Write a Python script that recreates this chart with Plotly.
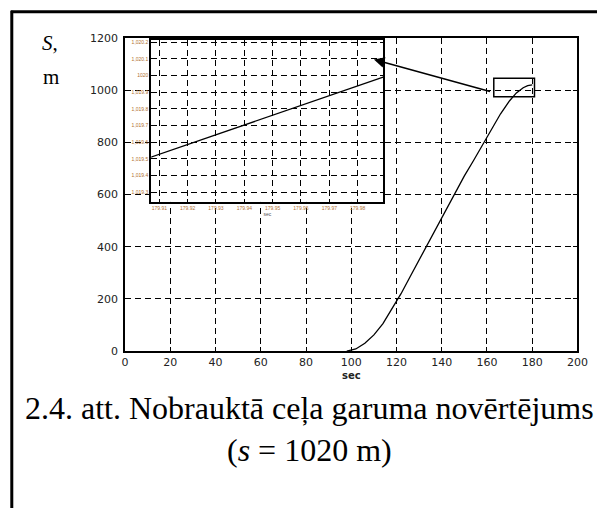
import plotly.graph_objects as go

# ---------------- data ----------------
t_main = [98, 102, 106, 110, 114, 118, 122, 126, 130, 134, 138, 142, 146, 150, 154,
          158, 162, 166, 170, 173, 176, 178, 180]
s_main = [0, 8, 30, 62, 105, 160, 220, 285, 350, 415, 480, 545, 610, 672, 730,
          790, 850, 910, 960, 990, 1010, 1018, 1021]

x_ticks = [0, 20, 40, 60, 80, 100, 120, 140, 160, 180, 200]
y_ticks = [0, 200, 400, 600, 800, 1000, 1200]

# inset (zoomed view)
t_inset = [179.907, 179.989]
s_inset = [1019.51, 1019.99]
inset_x_ticks = [179.91, 179.92, 179.93, 179.94, 179.95, 179.96, 179.97, 179.98]
inset_y_ticks = [1019.3, 1019.4, 1019.5, 1019.6, 1019.7, 1019.8, 1019.9, 1020.0, 1020.1, 1020.2]

# zoom box in main plot and arrow (data coordinates)
box_t = [163, 181]
box_s = [975, 1046]
arrow_tail = (162, 994)
arrow_head = (110, 1118)

W, H = 608, 515
def px(x):
    return x / W
def py(y):
    return 1 - y / H

fig = go.Figure()

fig.add_trace(go.Scatter(x=t_main, y=s_main, mode="lines",
                         line=dict(color="black", width=1.3),
                         xaxis="x", yaxis="y", showlegend=False, hoverinfo="skip"))
fig.add_trace(go.Scatter(x=t_inset, y=s_inset, mode="lines",
                         line=dict(color="black", width=1.3),
                         xaxis="x2", yaxis="y2", showlegend=False, hoverinfo="skip"))

tickfont = dict(family="DejaVu Sans", size=11, color="#222")
dash = "6px,4px"
inset_dx = inset_x_ticks[1] - inset_x_ticks[0]
inset_dy = inset_y_ticks[1] - inset_y_ticks[0]

fig.update_layout(
    width=W, height=H,
    margin=dict(l=0, r=0, t=0, b=0),
    paper_bgcolor="white", plot_bgcolor="white",
    showlegend=False,
    xaxis=dict(domain=[px(125), px(588)], range=[0, 200], tickvals=x_ticks,
               showgrid=True, gridcolor="black", griddash=dash, gridwidth=1.2,
               showline=True, linecolor="black", linewidth=2, mirror="ticks",
               ticks="inside", ticklen=4, tickcolor="black", tickwidth=1.2,
               tickfont=tickfont, zeroline=False, anchor="y",
               title=dict(text="<b>sec</b>", font=dict(family="DejaVu Sans", size=10, color="#222"), standoff=4)),
    yaxis=dict(domain=[py(354), py(33)], range=[0, 1200], tickvals=y_ticks,
               showgrid=True, gridcolor="black", griddash=dash, gridwidth=1.2,
               showline=True, linecolor="black", linewidth=2, mirror="ticks",
               ticks="inside", ticklen=4, tickcolor="black", tickwidth=1.2,
               tickfont=tickfont, zeroline=False, anchor="x", ticklabelstandoff=3),
    xaxis2=dict(domain=[px(151.7), px(389.3)],
                range=[inset_x_ticks[0] - 0.286 * inset_dx, inset_x_ticks[-1] + 0.907 * inset_dx],
                tickvals=inset_x_ticks,
                showgrid=True, gridcolor="black", griddash=dash, gridwidth=1.2,
                showline=True, linecolor="black", linewidth=1.8, mirror="ticks",
                ticks="inside", ticklen=3, tickcolor="black",
                tickfont=dict(family="Liberation Sans", size=5, color="#b07030"),
                zeroline=False, anchor="y2",
                title=dict(text="sec", font=dict(family="Liberation Sans", size=5, color="#555"), standoff=2)),
    yaxis2=dict(domain=[py(201), py(35)],
                range=[inset_y_ticks[0] - 0.58 * inset_dy, inset_y_ticks[-1] + 0.117 * inset_dy],
                tickvals=inset_y_ticks,
                showgrid=True, gridcolor="black", griddash=dash, gridwidth=1.2,
                showline=True, linecolor="black", linewidth=1.8, mirror="ticks",
                ticks="inside", ticklen=3, tickcolor="black",
                tickfont=dict(family="Liberation Sans", size=5, color="#b07030"),
                zeroline=False, anchor="x2"),
)

# white backing for the inset (above main grid, below main data)
fig.add_shape(type="rect", xref="paper", yref="paper",
              x0=px(127), x1=px(392), y0=py(209), y1=py(34),
              fillcolor="white", line=dict(width=0), layer="between")

# zoom box
fig.add_shape(type="rect", xref="x", yref="y", x0=box_t[0], x1=box_t[1],
              y0=box_s[0], y1=box_s[1], line=dict(color="black", width=1.5))

# arrow
fig.add_annotation(x=arrow_head[0], y=arrow_head[1], ax=arrow_tail[0], ay=arrow_tail[1],
                   xref="x", yref="y", axref="x", ayref="y", text="",
                   showarrow=True, arrowhead=2, arrowsize=1.4, arrowwidth=1.5, arrowcolor="black")

# table-cell borders
fig.add_shape(type="line", xref="paper", yref="paper", x0=px(8), x1=1, y0=py(6), y1=py(6),
              line=dict(color="black", width=3))
fig.add_shape(type="line", xref="paper", yref="paper", x0=px(9), x1=px(9), y0=py(5), y1=0,
              line=dict(color="black", width=3))

# axis symbol labels
fig.add_annotation(text="<i>S</i>,", xref="paper", yref="paper", x=px(38), y=py(38),
                   xanchor="left", yanchor="middle", showarrow=False,
                   font=dict(family="Liberation Serif", size=21, color="black"))
fig.add_annotation(text="m", xref="paper", yref="paper", x=px(39), y=py(73),
                   xanchor="left", yanchor="middle", showarrow=False,
                   font=dict(family="Liberation Serif", size=21, color="black"))

# caption
fig.add_annotation(text="2.4. att. Nobrauktā ceļa garuma novērtējums", xref="paper", yref="paper",
                   x=px(314), y=py(412), xanchor="center", yanchor="middle", showarrow=False,
                   font=dict(family="Liberation Serif", size=32, color="black"))
fig.add_annotation(text="(<i>s</i> = 1020 m)", xref="paper", yref="paper",
                   x=px(314), y=py(455), xanchor="center", yanchor="middle", showarrow=False,
                   font=dict(family="Liberation Serif", size=32, color="black"))

fig.write_html("out.html")
